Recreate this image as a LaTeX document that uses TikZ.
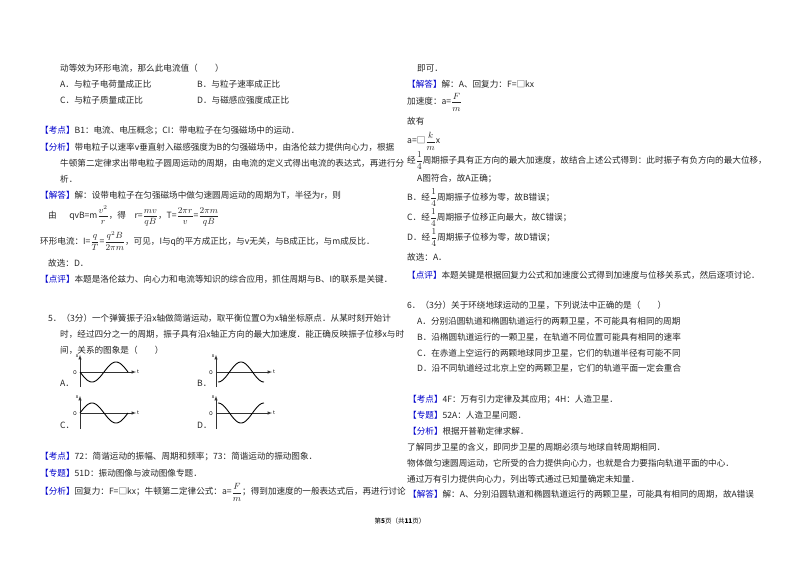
\documentclass[tikz,border=0pt]{standalone}
\usepackage{amsmath}
\usepackage{fontspec}
\setmainfont{Noto Sans CJK SC}
\usepackage{xcolor}
\newcommand\tg[1]{\textcolor{blue!80!black}{【#1】}}
\newcommand\fr[2]{$\dfrac{#1}{#2}$}
\tikzset{txt/.style={anchor=west,inner sep=0pt,font=\fontsize{8.6}{10}\selectfont,text=black!85},
ax/.style={draw=black!80,line width=0.5pt,-latex},
wave/.style={draw=black,line width=0.9pt},
axl/.style={inner sep=0pt,font=\fontsize{5}{6}\selectfont\itshape}}
\begin{document}
\begin{tikzpicture}[x=1pt,y=-1pt]
\useasboundingbox[fill=white] (0,0) rectangle (800,565);
% left column
\node[txt] (l1) at (60,68) {动等效为环形电流，那么此电流值（\quad\quad）};
\node[txt] (l2a) at (60,84) {A．与粒子电荷量成正比};
\node[txt] (l2b) at (197,84) {B．与粒子速率成正比};
\node[txt] (l3a) at (60,100) {C．与粒子质量成正比};
\node[txt] (l3b) at (197,100) {D．与磁感应强度成正比};
\node[txt] (l4) at (40,131) {\tg{考点}B1：电流、电压概念；CI：带电粒子在匀强磁场中的运动．};
\node[txt] (l5) at (40,147) {\tg{分析}带电粒子以速率v垂直射入磁感强度为B的匀强磁场中，由洛伦兹力提供向心力，根据};
\node[txt] (l6) at (60,163) {牛顿第二定律求出带电粒子圆周运动的周期，由电流的定义式得出电流的表达式，再进行分};
\node[txt] (l7) at (60,179) {析．};
\node[txt] (l8) at (40,195) {\tg{解答}解：设带电粒子在匀强磁场中做匀速圆周运动的周期为T，半径为r，则};
\node[txt] (l9) at (48,216) {由\quad\ \ qvB=m\fr{v^2}{r}，得\quad r=\fr{mv}{qB}，T=\fr{2\pi r}{v}=\fr{2\pi m}{qB}};
\node[txt] (l10) at (40,241) {环形电流：I=\fr{q}{T}=\fr{q^2B}{2\pi m}，可见，I与q的平方成正比，与v无关，与B成正比，与m成反比．};
\node[txt] (l11) at (48,263) {故选：D．};
\node[txt] (l12) at (40,279) {\tg{点评}本题是洛伦兹力、向心力和电流等知识的综合应用，抓住周期与B、I的联系是关键．};
\node[txt] (l13) at (48,318) {5．（3分）一个弹簧振子沿x轴做简谐运动，取平衡位置O为x轴坐标原点．从某时刻开始计};
\node[txt] (l14) at (60,334) {时，经过四分之一的周期，振子具有沿x轴正方向的最大加速度．能正确反映振子位移x与时};
\node[txt] (l15) at (60,350) {间，关系的图象是（\quad\quad）};
% graphs
\node[txt] (ga) at (60,383) {A．};
\draw[ax] (80,387) -- (80,355); \draw[ax] (80,372) -- (136,372);
\node[axl] at (77,356) {x}; \node[axl] at (75,373) {O}; \node[axl] at (138,372) {t};
\draw[wave] plot[domain=0:360,samples=60] ({80+\x/360*48},{372+10*sin(\x)});
\node[txt] (gb) at (197,383) {B．};
\draw[ax] (216,387) -- (216,355); \draw[ax] (216,372) -- (272,372);
\node[axl] at (213,356) {x}; \node[axl] at (211,373) {O}; \node[axl] at (274,372) {t};
\draw[wave] plot[domain=0:360,samples=60] ({218+\x/360*46},{372+10*cos(\x)});
\node[txt] (gc) at (60,425) {C．};
\draw[ax] (80,429) -- (80,396); \draw[ax] (80,413) -- (136,413);
\node[axl] at (77,397) {x}; \node[axl] at (75,414) {O}; \node[axl] at (138,413) {t};
\draw[wave] plot[domain=0:360,samples=60] ({80+\x/360*48},{413-10*sin(\x)});
\node[txt] (gd) at (197,425) {D．};
\draw[ax] (216,429) -- (216,396); \draw[ax] (216,413) -- (272,413);
\node[axl] at (213,397) {x}; \node[axl] at (211,414) {O}; \node[axl] at (274,413) {t};
\draw[wave] plot[domain=0:360,samples=60] ({218+\x/360*46},{413-10*cos(\x)});
\node[txt] (l16) at (40,457) {\tg{考点}72：简谐运动的振幅、周期和频率；73：简谐运动的振动图象．};
\node[txt] (l17) at (40,473) {\tg{专题}51D：振动图像与波动图像专题．};
\node[txt] (l18) at (40,492) {\tg{分析}回复力：F=□kx；牛顿第二定律公式：a=\fr{F}{m}；得到加速度的一般表达式后，再进行讨论};
\node[inner sep=0pt,font=\fontsize{6.5}{8}\selectfont] (ft) at (400,521) {第\textbf{5}页（共\textbf{11}页）};
% right column
\node[txt] (r1) at (417,68) {即可．};
\node[txt] (r2) at (407,84) {\tg{解答}解：A、回复力：F=□kx};
\node[txt] (r3) at (407,102) {加速度：a=\fr{F}{m}};
\node[txt] (r4) at (407,121) {故有};
\node[txt] (r5) at (407,141) {a=□\fr{k}{m}x};
\node[txt] (r6) at (407,161) {经\fr{1}{4}周期振子具有正方向的最大加速度，故结合上述公式得到：此时振子有负方向的最大位移，};
\node[txt] (r7) at (417,179) {A图符合，故A正确；};
\node[txt] (r8) at (407,198) {B．经\fr{1}{4}周期振子位移为零，故B错误；};
\node[txt] (r9) at (407,218) {C．经\fr{1}{4}周期振子位移正向最大，故C错误；};
\node[txt] (r10) at (407,238) {D．经\fr{1}{4}周期振子位移为零，故D错误；};
\node[txt] (r11) at (407,257) {故选：A．};
\node[txt] (r12) at (407,275) {\tg{点评}本题关键是根据回复力公式和加速度公式得到加速度与位移关系式，然后逐项讨论．};
\node[txt] (r13) at (407,305) {6．（3分）关于环绕地球运动的卫星，下列说法中正确的是（\quad\quad）};
\node[txt] (r14) at (417,321) {A．分别沿圆轨道和椭圆轨道运行的两颗卫星，不可能具有相同的周期};
\node[txt] (r15) at (417,337) {B．沿椭圆轨道运行的一颗卫星，在轨道不同位置可能具有相同的速率};
\node[txt] (r16) at (417,353) {C．在赤道上空运行的两颗地球同步卫星，它们的轨道半径有可能不同};
\node[txt] (r17) at (417,368) {D．沿不同轨道经过北京上空的两颗卫星，它们的轨道平面一定会重合};
\node[txt] (r18) at (408,400) {\tg{考点}4F：万有引力定律及其应用；4H：人造卫星．};
\node[txt] (r19) at (408,415) {\tg{专题}52A：人造卫星问题．};
\node[txt] (r20) at (408,431) {\tg{分析}根据开普勒定律求解．};
\node[txt] (r21) at (407,447) {了解同步卫星的含义，即同步卫星的周期必须与地球自转周期相同．};
\node[txt] (r22) at (407,463) {物体做匀速圆周运动，它所受的合力提供向心力，也就是合力要指向轨道平面的中心．};
\node[txt] (r23) at (407,479) {通过万有引力提供向心力，列出等式通过已知量确定未知量．};
\node[txt] (r24) at (408,494) {\tg{解答}解：A、分别沿圆轨道和椭圆轨道运行的两颗卫星，可能具有相同的周期，故A错误};
\end{tikzpicture}
\end{document}
